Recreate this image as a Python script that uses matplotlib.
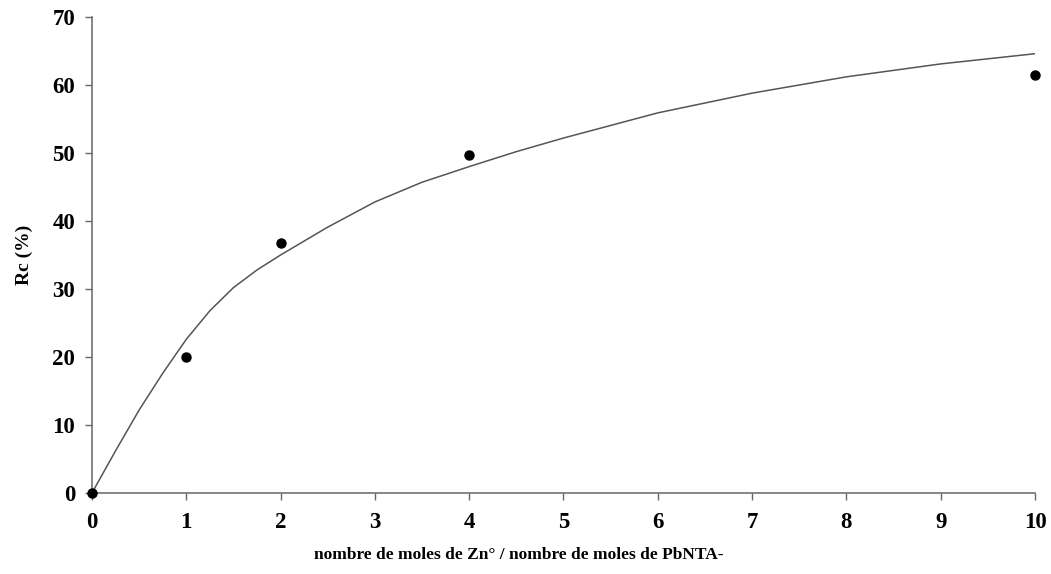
import numpy as np
import matplotlib.pyplot as plt

# measured points
x_pts = [0, 1, 2, 4, 10]
rc_pts = [0, 20, 36.8, 49.7, 61.5]

# fitted curve
x_fit = [0, 0.25, 0.5, 0.75, 1, 1.25, 1.5, 1.75, 2, 2.5, 3, 3.5, 4, 4.5, 5, 6, 7, 8, 9, 10]
rc_fit = [0, 6.2, 12.2, 17.6, 22.6, 26.8, 30.2, 32.8, 35.0, 39.1, 42.8, 45.7, 48.0,
          50.2, 52.2, 55.9, 58.8, 61.2, 63.1, 64.6]

plt.rcParams['font.family'] = 'Liberation Serif'
plt.rcParams['font.weight'] = 'bold'

fig = plt.figure(figsize=(10.51, 5.74), dpi=100)
ax = fig.add_axes([0.0875, 0.1411, 0.8973, 0.8293])

ax.plot(x_fit, rc_fit, color='#555555', lw=1.1)
ax.plot(x_pts, rc_pts, 'o', color='black', ms=6.5, clip_on=False, zorder=5)

ax.set_xlim(0, 10)
ax.set_ylim(0, 70)
ax.set_xticks(range(0, 11))
ax.set_yticks(range(0, 71, 10))
for s in ['top', 'right']:
    ax.spines[s].set_visible(False)
for s in ['left', 'bottom']:
    ax.spines[s].set_color('#666666')
    ax.spines[s].set_linewidth(1.1)
ax.tick_params(colors='#666666', length=5, width=1, labelsize=16.5,
               labelcolor='black')
ax.tick_params(axis='x', pad=9)
ax.tick_params(axis='y', pad=7)

ax.set_xlabel("nombre de moles de Zn° / nombre de moles de PbNTA-",
              fontsize=12.5, fontweight='bold', labelpad=10, x=0.453)
ax.set_ylabel("Rc (%)", fontsize=14, fontweight='bold', labelpad=14)

plt.savefig("out.png", dpi=100)
